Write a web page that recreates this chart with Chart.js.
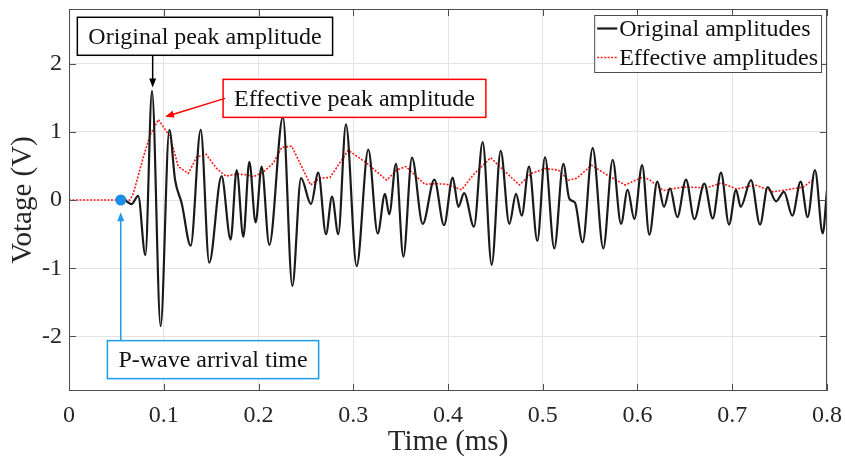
<!DOCTYPE html>
<html>
<head>
<meta charset="utf-8">
<script src="https://cdn.jsdelivr.net/npm/chart.js@4.4.0/dist/chart.umd.min.js"></script>
<style>
    html, body { margin: 0; padding: 0; background: #ffffff; }
    #wrap { width: 845px; height: 463px; }
</style>
</head>
<body>
<div id="wrap"><canvas id="waveChart" width="845" height="463"></canvas></div>
<script>
// original trace (time in ms, voltage in V)
const origTime = [0.0546, 0.058, 0.066, 0.073, 0.0806, 0.0876, 0.0967, 0.1059, 0.112, 0.119, 0.1284,
    0.139, 0.148, 0.161, 0.1706, 0.177, 0.184, 0.1903, 0.197, 0.2033, 0.2114, 0.2258, 0.2357,
    0.2449, 0.2554, 0.2631, 0.2712, 0.2776, 0.2842, 0.2923, 0.3036, 0.3159, 0.3258, 0.3335, 0.338,
    0.3451, 0.3529, 0.362, 0.3733, 0.3856, 0.3958, 0.405, 0.4109, 0.417, 0.4274, 0.4366, 0.4461,
    0.4556, 0.4647, 0.4718, 0.4778, 0.4855, 0.4943, 0.5024, 0.5122, 0.5217, 0.528, 0.534, 0.5421,
    0.5527, 0.5639, 0.5738, 0.5826, 0.5896, 0.5966, 0.6049, 0.6125, 0.6209, 0.628, 0.6343, 0.642,
    0.6512, 0.66, 0.6705, 0.6794, 0.6881, 0.6966, 0.704, 0.7089, 0.7198, 0.7293, 0.7374, 0.7462,
    0.7546, 0.7634, 0.7722, 0.7796, 0.7873, 0.7955, 0.8];
const origVolt = [0, 0, -0.06, 0.06, -0.81, 1.60, -1.85, 1.03, 0.29, -0.05, -0.67,
    1.03, -0.92, 0.35, -0.58, 0.44, -0.54, 0.56, -0.33, 0.49, -0.66, 1.22, -1.26,
    0.32, -0.06, 0.40, -0.50, 0.05, -0.50, 1.11, -0.97, 0.74, -0.49, 0.09, -0.21,
    0.53, -0.83, 0.62, -0.35, 0.30, -0.37, 0.33, -0.10, 0.10, -0.39, 0.85, -0.95,
    0.72, -0.35, 0.09, -0.23, 0.49, -0.60, 0.63, -0.71, 0.53, 0.02, -0.04, -0.62,
    0.76, -0.71, 0.59, -0.35, 0.15, -0.28, 0.51, -0.51, 0.27, -0.10, 0.17, -0.25,
    0.30, -0.28, 0.24, -0.27, 0.40, -0.36, 0.15, -0.10, 0.29, -0.36, 0.19, -0.02,
    0.12, -0.23, 0.27, -0.25, 0.44, -0.49, 0.15];

// effective amplitude envelope
const effTime = [0, 0.0644, 0.068, 0.0785, 0.0855, 0.0943, 0.1066, 0.1154, 0.1259, 0.1348, 0.1446,
    0.1559, 0.1657, 0.177, 0.1875, 0.1945, 0.2051, 0.2156, 0.2245, 0.235, 0.255, 0.2649, 0.2755,
    0.2948, 0.3142, 0.3353, 0.3458, 0.3557, 0.3669, 0.3757, 0.388, 0.3986, 0.4144, 0.4267, 0.445,
    0.4584, 0.4753, 0.4883, 0.5024, 0.5164, 0.527, 0.5358, 0.5516, 0.5675, 0.5868, 0.6061, 0.6132,
    0.6273, 0.6483, 0.673, 0.6888, 0.7046, 0.724, 0.7433, 0.7574, 0.775, 0.7856];
const effVolt = [0, 0, 0.10, 0.63, 0.95, 1.18, 0.93, 0.49, 0.39, 0.63, 0.67,
    0.46, 0.35, 0.38, 0.37, 0.34, 0.41, 0.54, 0.77, 0.79, 0.22, 0.32, 0.33,
    0.73, 0.54, 0.29, 0.44, 0.49, 0.34, 0.23, 0.24, 0.23, 0.15, 0.37, 0.62,
    0.44, 0.22, 0.39, 0.46, 0.44, 0.29, 0.32, 0.51, 0.37, 0.22, 0.34, 0.29,
    0.14, 0.19, 0.18, 0.25, 0.16, 0.22, 0.12, 0.15, 0.19, 0.30];

const xTicks = [0, 0.1, 0.2, 0.3, 0.4, 0.5, 0.6, 0.7, 0.8];
const yTicks = [-2, -1, 0, 1, 2];

const arrivalTime = 0.0546;
const origPeak = [0.0883, 1.65];
const effPeak = [0.1013, 1.22];

const FONT = "'Liberation Serif', 'Times New Roman', serif";

function toPoints(xs, ys) {
    return xs.map((x, i) => ({ x: x, y: ys[i] }));
}

// callouts: box centre in data units, arrow from box edge to the feature
const callouts = [
    { text: 'Original peak amplitude', color: '#000000', box: [0.1435, 2.40], from: [origPeak[0], 2.12], to: origPeak },
    { text: 'Effective peak amplitude', color: '#ff0000', box: [0.3013, 1.49], from: [0.1646, 1.49], to: effPeak },
    { text: 'P-wave arrival time', color: '#1e9be9', box: [0.152, -2.34], from: [arrivalTime, -2.06], to: [arrivalTime, -0.18] }
];

function drawArrow(ctx, x1, y1, x2, y2, color) {
    const ang = Math.atan2(y2 - y1, x2 - x1);
    const headLen = 9, headW = 3.5;
    ctx.strokeStyle = color;
    ctx.fillStyle = color;
    ctx.lineWidth = 1.5;
    ctx.beginPath();
    ctx.moveTo(x1, y1);
    ctx.lineTo(x2 - Math.cos(ang) * headLen * 0.8, y2 - Math.sin(ang) * headLen * 0.8);
    ctx.stroke();
    ctx.beginPath();
    ctx.moveTo(x2, y2);
    ctx.lineTo(x2 - Math.cos(ang) * headLen - Math.sin(ang) * headW, y2 - Math.sin(ang) * headLen + Math.cos(ang) * headW);
    ctx.lineTo(x2 - Math.cos(ang) * headLen + Math.sin(ang) * headW, y2 - Math.sin(ang) * headLen - Math.cos(ang) * headW);
    ctx.closePath();
    ctx.fill();
}

const decorPlugin = {
    id: 'decor',
    afterDatasetsDraw(chart) {
        const ctx = chart.ctx;
        const area = chart.chartArea;
        const xs = chart.scales.x, ys = chart.scales.y;
        ctx.save();

        // box round the plot and inward ticks
        ctx.strokeStyle = '#4d4d4d';
        ctx.lineWidth = 1;
        ctx.strokeRect(area.left + 0.5, area.top + 0.5, area.width - 1, area.height - 1);
        ctx.beginPath();
        xTicks.forEach(v => {
            const px = Math.round(xs.getPixelForValue(v)) + 0.5;
            ctx.moveTo(px, area.bottom); ctx.lineTo(px, area.bottom - 7);
            ctx.moveTo(px, area.top); ctx.lineTo(px, area.top + 7);
        });
        yTicks.forEach(v => {
            const py = Math.round(ys.getPixelForValue(v)) + 0.5;
            ctx.moveTo(area.left, py); ctx.lineTo(area.left + 7, py);
            ctx.moveTo(area.right, py); ctx.lineTo(area.right - 7, py);
        });
        ctx.stroke();

        // arrival marker
        ctx.fillStyle = '#1a8fe3';
        ctx.beginPath();
        ctx.arc(xs.getPixelForValue(arrivalTime), ys.getPixelForValue(0), 5.5, 0, Math.PI * 2);
        ctx.fill();

        // callout boxes and arrows
        ctx.font = '24px ' + FONT;
        ctx.textAlign = 'center';
        ctx.textBaseline = 'middle';
        callouts.forEach(c => {
            const cx = xs.getPixelForValue(c.box[0]);
            const cy = ys.getPixelForValue(c.box[1]);
            const w = ctx.measureText(c.text).width + 22;
            const h = 38;
            ctx.fillStyle = '#ffffff';
            ctx.fillRect(cx - w / 2, cy - h / 2, w, h);
            ctx.strokeStyle = c.color;
            ctx.lineWidth = 1.5;
            ctx.strokeRect(cx - w / 2, cy - h / 2, w, h);
            ctx.fillStyle = '#111111';
            ctx.fillText(c.text, cx, cy + 1);
            drawArrow(ctx,
                xs.getPixelForValue(c.from[0]), ys.getPixelForValue(c.from[1]),
                xs.getPixelForValue(c.to[0]), ys.getPixelForValue(c.to[1]), c.color);
        });

        // legend in the top right corner
        const sets = chart.data.datasets;
        ctx.textAlign = 'left';
        let textW = 0;
        sets.forEach(d => { textW = Math.max(textW, ctx.measureText(d.label).width); });
        const lw = 3 + 20 + 2 + textW + 3;
        const lh = 57;
        const lx = area.right - 6 - lw;
        const ly = area.top + 6;
        ctx.fillStyle = '#ffffff';
        ctx.fillRect(lx, ly, lw, lh);
        ctx.strokeStyle = '#4d4d4d';
        ctx.lineWidth = 1;
        ctx.strokeRect(lx + 0.5, ly + 0.5, lw, lh);
        sets.forEach((d, i) => {
            const rowY = ly + 13.5 + i * 29;
            ctx.strokeStyle = d.borderColor;
            ctx.lineWidth = d.borderWidth;
            ctx.setLineDash(d.borderDash || []);
            ctx.beginPath();
            ctx.moveTo(lx + 3, rowY); ctx.lineTo(lx + 23, rowY);
            ctx.stroke();
            ctx.setLineDash([]);
            ctx.fillStyle = '#111111';
            ctx.fillText(d.label, lx + 25, rowY + 1);
        });
        ctx.restore();
    }
};

const ctx = document.getElementById('waveChart').getContext('2d');
const waveChart = new Chart(ctx, {
    type: 'line',
    data: {
        datasets: [{
            label: 'Original amplitudes',
            data: toPoints(origTime, origVolt),
            borderColor: '#1a1a1a',
            borderWidth: 2.2,
            pointRadius: 0,
            cubicInterpolationMode: 'monotone',
            fill: false
        }, {
            label: 'Effective amplitudes',
            data: toPoints(effTime, effVolt),
            borderColor: '#ff1a1a',
            borderWidth: 1.6,
            borderDash: [2, 1.5],
            pointRadius: 0,
            tension: 0,
            fill: false
        }]
    },
    options: {
        responsive: false,
        devicePixelRatio: 1,
        animation: false,
        layout: {
            padding: { top: 9, right: 18, left: 0, bottom: 0 }
        },
        plugins: {
            legend: { display: false },
            tooltip: { enabled: false }
        },
        scales: {
            x: {
                type: 'linear',
                min: 0,
                max: 0.8,
                afterBuildTicks: function(scale) {
                    scale.ticks = xTicks.map(v => ({ value: v }));
                },
                afterFit: function(scale) {
                    scale.height = 72;
                    scale.paddingLeft = 0;
                    scale.paddingRight = 0;
                },
                ticks: {
                    autoSkip: false,
                    maxRotation: 0,
                    padding: 10,
                    color: '#262626',
                    font: { family: FONT, size: 24 },
                    callback: function(value) {
                        return String(Math.round(value * 10) / 10);
                    }
                },
                grid: {
                    color: '#e4e4e4',
                    drawTicks: false
                },
                border: { display: false },
                title: {
                    display: true,
                    text: 'Time (ms)',
                    color: '#262626',
                    font: { family: FONT, size: 29 },
                    padding: { top: 3, bottom: 3 }
                }
            },
            y: {
                min: -2.8,
                max: 2.8,
                afterBuildTicks: function(scale) {
                    scale.ticks = yTicks.map(v => ({ value: v }));
                },
                afterFit: function(scale) {
                    scale.width = 69;
                    scale.paddingTop = 0;
                    scale.paddingBottom = 0;
                },
                ticks: {
                    autoSkip: false,
                    padding: 7,
                    color: '#262626',
                    font: { family: FONT, size: 24 }
                },
                grid: {
                    color: '#e4e4e4',
                    drawTicks: false
                },
                border: { display: false },
                title: {
                    display: true,
                    text: 'Votage (V)',
                    color: '#262626',
                    font: { family: FONT, size: 29 },
                    padding: { top: 6, bottom: 0 }
                }
            }
        }
    },
    plugins: [decorPlugin]
});
</script>
</body>
</html>
